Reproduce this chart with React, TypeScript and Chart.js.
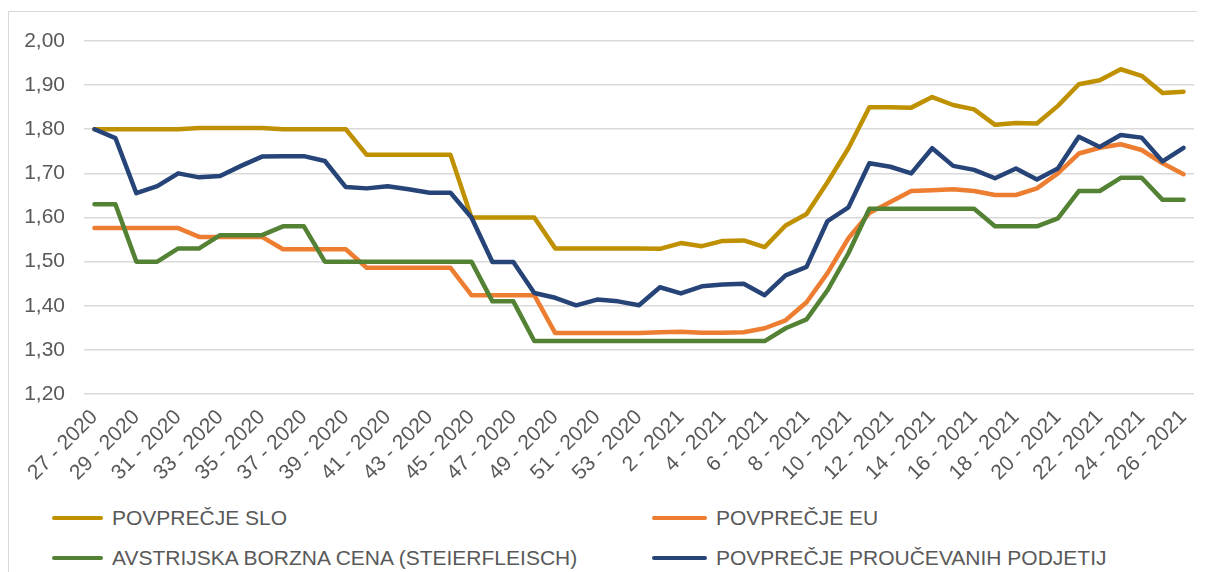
import React, { useEffect, useRef } from "react";
import { Chart, registerables } from "chart.js";

Chart.register(...registerables);

const categories = [
  "27 - 2020", "28 - 2020", "29 - 2020", "30 - 2020", "31 - 2020", "32 - 2020", "33 - 2020",
  "34 - 2020", "35 - 2020", "36 - 2020", "37 - 2020", "38 - 2020", "39 - 2020", "40 - 2020",
  "41 - 2020", "42 - 2020", "43 - 2020", "44 - 2020", "45 - 2020", "46 - 2020", "47 - 2020",
  "48 - 2020", "49 - 2020", "50 - 2020", "51 - 2020", "52 - 2020", "53 - 2020",
  "1 - 2021", "2 - 2021", "3 - 2021", "4 - 2021", "5 - 2021", "6 - 2021", "7 - 2021",
  "8 - 2021", "9 - 2021", "10 - 2021", "11 - 2021", "12 - 2021", "13 - 2021", "14 - 2021",
  "15 - 2021", "16 - 2021", "17 - 2021", "18 - 2021", "19 - 2021", "20 - 2021", "21 - 2021",
  "22 - 2021", "23 - 2021", "24 - 2021", "25 - 2021", "26 - 2021",
];

const seriesNames = [
  "POVPREČJE SLO",
  "POVPREČJE EU",
  "AVSTRIJSKA BORZNA CENA (STEIERFLEISCH)",
  "POVPREČJE PROUČEVANIH PODJETIJ",
];

const povprecjeSlo = [
  1.80, 1.80, 1.80, 1.80, 1.80, 1.803, 1.803, 1.803, 1.803, 1.80,
  1.80, 1.80, 1.80, 1.742, 1.742, 1.742, 1.742, 1.742, 1.60, 1.60,
  1.60, 1.60, 1.53, 1.53, 1.53, 1.53, 1.53, 1.529, 1.542, 1.535,
  1.547, 1.548, 1.533, 1.582, 1.608, 1.68, 1.757, 1.85, 1.85, 1.849,
  1.873, 1.855, 1.845, 1.81, 1.814, 1.813, 1.853, 1.902, 1.911, 1.936,
  1.921, 1.882, 1.885,
];

const povprecjeEu = [
  1.576, 1.576, 1.576, 1.576, 1.576, 1.556, 1.556, 1.556, 1.556, 1.528,
  1.528, 1.528, 1.528, 1.486, 1.486, 1.486, 1.486, 1.486, 1.424, 1.424,
  1.424, 1.424, 1.338, 1.338, 1.338, 1.338, 1.338, 1.34, 1.341, 1.339,
  1.339, 1.34, 1.349, 1.367, 1.408, 1.474, 1.553, 1.61, 1.635, 1.66,
  1.662, 1.664, 1.66, 1.651, 1.651, 1.666, 1.70, 1.745, 1.758, 1.766,
  1.753, 1.723, 1.698,
];

const avstrijskaCena = [
  1.63, 1.63, 1.50, 1.50, 1.53, 1.53, 1.56, 1.56, 1.56, 1.58,
  1.58, 1.50, 1.50, 1.50, 1.50, 1.50, 1.50, 1.50, 1.50, 1.41,
  1.41, 1.32, 1.32, 1.32, 1.32, 1.32, 1.32, 1.32, 1.32, 1.32,
  1.32, 1.32, 1.32, 1.349, 1.369, 1.435, 1.519, 1.62, 1.62, 1.62,
  1.62, 1.62, 1.62, 1.58, 1.58, 1.58, 1.598, 1.66, 1.66, 1.69,
  1.69, 1.64, 1.64,
];

const povprecjePodjetij = [
  1.80, 1.78, 1.655, 1.671, 1.70, 1.691, 1.694, 1.717, 1.738, 1.739,
  1.739, 1.728, 1.669, 1.666, 1.671, 1.664, 1.656, 1.656, 1.60, 1.499,
  1.499, 1.429, 1.418, 1.401, 1.414, 1.41, 1.401, 1.442, 1.428, 1.444,
  1.448, 1.45, 1.424, 1.469, 1.488, 1.592, 1.623, 1.723, 1.715, 1.70,
  1.757, 1.717, 1.708, 1.689, 1.711, 1.686, 1.711, 1.783, 1.76, 1.787,
  1.781, 1.727, 1.758,
];

const colors = ["#BF9000", "#ED7D31", "#548235", "#264478"];
const FONT = "'Liberation Sans', Arial, sans-serif";
const TEXT = "#595959";

export default function App() {
  const ref = useRef<HTMLCanvasElement>(null);

  useEffect(() => {
    document.documentElement.style.overflow = "hidden";
    document.body.style.overflow = "hidden";
    const values = [povprecjeSlo, povprecjeEu, avstrijskaCena, povprecjePodjetij];
    const orders = [3, 2, 1, 0];
    const chart = new Chart(ref.current!, {
      type: "line",
      data: {
        labels: categories,
        datasets: values.map((d, i) => ({
          label: seriesNames[i],
          data: d,
          borderColor: colors[i],
          backgroundColor: colors[i],
          borderWidth: 4.5,
          pointRadius: 0,
          tension: 0,
          borderJoinStyle: "round" as const,
          borderCapStyle: "round" as const,
          order: orders[i],
        })),
      },
      options: {
        responsive: false,
        animation: false,
        layout: { padding: { top: 29, right: 3, left: 0, bottom: 0 } },
        plugins: { legend: { display: false }, tooltip: { enabled: false } },
        scales: {
          x: {
            offset: true,
            grid: { display: false, drawTicks: false },
            border: { display: false },
            ticks: {
              autoSkip: false,
              maxRotation: 45,
              minRotation: 45,
              padding: 11,
              color: TEXT,
              font: { size: 21, family: FONT },
              callback: (_v: any, i: number) => (i % 2 === 0 ? categories[i] : ""),
            },
            afterFit: (s: any) => {
              s.height = 98;
              s.paddingLeft = 0;
              s.paddingRight = 0;
            },
          },
          y: {
            min: 1.2,
            max: 2.0,
            grid: { color: "#d9d9d9", lineWidth: 1.5, drawTicks: false },
            border: { display: false },
            ticks: {
              stepSize: 0.1,
              padding: 19,
              color: TEXT,
              font: { size: 21, family: FONT },
              callback: (v: any) => Number(v).toFixed(2).replace(".", ","),
            },
            afterFit: (s: any) => {
              s.width = 75;
              s.paddingTop = 0;
              s.paddingBottom = 0;
            },
          },
        },
      },
    });
    return () => chart.destroy();
  }, []);

  const legendItems = [
    { i: 0, x: 43, y: 506, w: 51 },
    { i: 1, x: 643, y: 506, w: 55 },
    { i: 2, x: 43, y: 546, w: 51 },
    { i: 3, x: 643, y: 546, w: 55 },
  ];

  return (
    <div style={{ paddingTop: 3, height: 561 }}>
      <div
        style={{
          position: "relative",
          width: 1189,
          height: 561,
          boxSizing: "border-box",
          borderTop: "1px solid #d9d9d9",
          borderLeft: "1px solid #d9d9d9",
          background: "#fff",
        }}
      >
        <canvas
          ref={ref}
          width={1188}
          height={480}
          style={{ position: "absolute", left: 0, top: 0, display: "block" }}
        />
        {legendItems.map((it) => (
          <React.Fragment key={it.i}>
            <div
              style={{
                position: "absolute",
                left: it.x,
                top: it.y - 2,
                width: it.w,
                height: 4,
                borderRadius: 2,
                background: colors[it.i],
              }}
            />
            <div
              style={{
                position: "absolute",
                left: it.x + it.w + 9,
                top: it.y - 12,
                height: 24,
                lineHeight: "24px",
                fontFamily: FONT,
                fontSize: 21,
                color: TEXT,
                whiteSpace: "nowrap",
              }}
            >
              {seriesNames[it.i]}
            </div>
          </React.Fragment>
        ))}
      </div>
    </div>
  );
}
